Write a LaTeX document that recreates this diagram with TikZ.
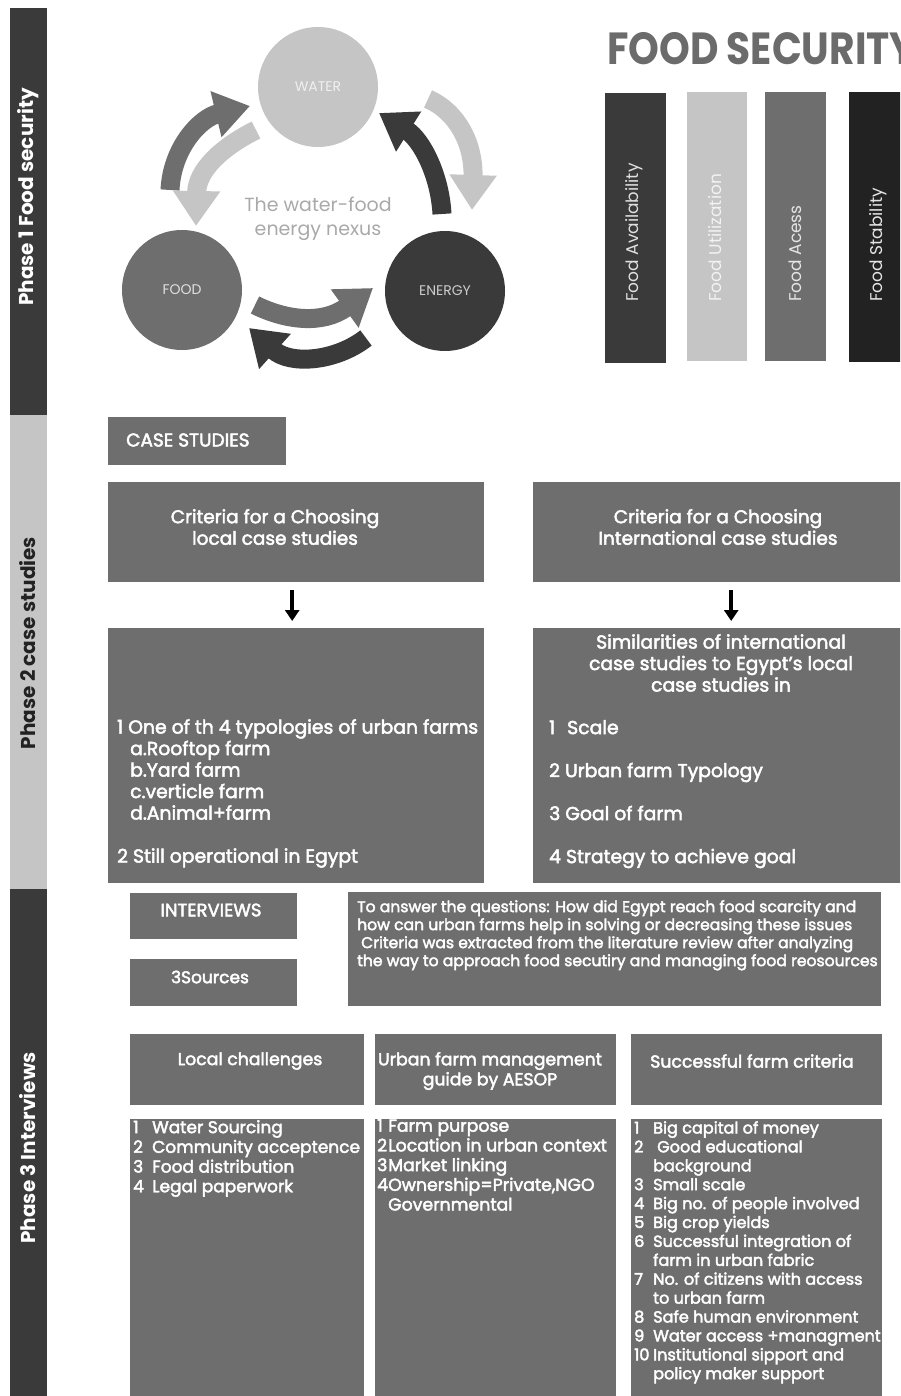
\documentclass[tikz,border=0pt]{standalone}
\usepackage{fontspec}
\setmainfont{Poppins}
\newfontfamily\bxf{Poppins}[FakeBold=2.5]
\newfontfamily\pop{Poppins}
\usetikzlibrary{arrows.meta}
\definecolor{cdark}{HTML}{3A3A3A}
\definecolor{cmed}{HTML}{6E6E6E}
\definecolor{clight}{HTML}{C5C5C5}
\definecolor{cblack}{HTML}{222222}
\definecolor{ctitle}{HTML}{6B6B6B}
\definecolor{cnexus}{HTML}{A9A9A9}
\newcommand{\myfs}[2]{\fontsize{#1}{#2}\selectfont}
\newcommand{\nbx}[2]{\makebox[#1][l]{#2}}
\begin{document}
\begin{tikzpicture}[x=1pt,y=-1pt,
  panel/.style={fill=cmed, inner sep=0pt, anchor=north west, draw=none},
  phasebar/.style={inner sep=0pt, anchor=north west, minimum width=37pt},
  phaselabel/.style={rotate=90, font={\pop\bfseries\myfs{20}{22}}},
  bigarrow/.style={line width=19pt, -{Triangle[length=35pt,width=45pt]}},
  downarrow/.style={line width=3.5pt, black, -{Triangle[length=11pt,width=14pt]}},
  btext/.style={text=white, inner sep=0pt},
  circ/.style={circle, minimum size=120pt, inner sep=0pt, font={\pop\myfs{14}{15}}},
  fsbar/.style={inner sep=0pt, anchor=north west},
  fslabel/.style={rotate=90, anchor=west, inner sep=0pt, font={\pop\myfs{17}{19}}}
]
\useasboundingbox (0,0) rectangle (900,1396);
\begin{scope}
\clip (0,0) rectangle (900,1396);

% phase bars
\node[phasebar, fill=cdark, minimum height=407pt] (p1) at (10,8) {};
\node[phasebar, fill=clight, minimum height=474pt] (p2) at (10,415) {};
\node[phasebar, fill=cdark, minimum height=510pt] (p3) at (10,889) {};
\node[phaselabel, text=white] (p1l) at (28,197) {Phase 1 Food security};
\node[phaselabel, text=cblack] (p2l) at (28,643) {Phase 2 case studies};
\node[phaselabel, text=white] (p3l) at (28,1148) {Phase 3 Interviews};

% nexus circles
\node[circ, fill=clight, text=white!94!black] (water) at (318,87) {WATER};
\node[circ, fill=cmed, text=white!88!black] (food) at (182,290) {FOOD};
\node[circ, fill=cdark, text=white!80!black] (energy) at (445,291) {ENERGY};
\node[align=center, text=cnexus, font={\pop\myfs{19}{24}}] (nexus) at (318,219) {The water-food\\energy nexus};

% nexus arrows
\coordinate (a1s) at (170,190); \coordinate (a1e) at (250,106);
\coordinate (a2s) at (256,130); \coordinate (a2e) at (196,226);
\coordinate (a3s) at (442,214); \coordinate (a3e) at (379,113);
\coordinate (a4s) at (428,99);  \coordinate (a4e) at (472,210);
\coordinate (a5s) at (255,305); \coordinate (a5e) at (373,288);
\coordinate (a6s) at (366,338); \coordinate (a6e) at (249,328);
\draw[bigarrow, cmed] (a1s) .. controls (172,148) and (200,118) .. (a1e);
\draw[bigarrow, clight] (a2s) .. controls (222,147) and (197,170) .. (a2e);
\draw[bigarrow, cdark] (a3s) .. controls (440,176) and (422,140) .. (a3e);
\draw[bigarrow, clight] (a4s) .. controls (458,112) and (474,145) .. (a4e);
\draw[bigarrow, cmed] (a5s) .. controls (285,320) and (322,325) .. (a5e);
\draw[bigarrow, cdark] (a6s) .. controls (335,362) and (290,365) .. (a6e);

% food security
\node[anchor=base west, inner sep=0pt, text=ctitle, font={\pop\bfseries\myfs{45}{47}}, xscale=0.87, transform shape] (fstitle) at (607,65) {FOOD SECURITY};
\node[fsbar, fill=cdark, minimum width=61pt, minimum height=270pt] (fs1) at (605,93) {};
\node[fsbar, fill=clight, minimum width=60pt, minimum height=269pt] (fs2) at (687,92) {};
\node[fsbar, fill=cmed, minimum width=61pt, minimum height=269pt] (fs3) at (765,92) {};
\node[fsbar, fill=cblack, minimum width=60pt, minimum height=270pt] (fs4) at (849,92) {};
\node[fslabel, text=white!88!black] (fs1l) at (634,302) {Food Availability};
\node[fslabel, text=white!95!black] (fs2l) at (715,302) {Food Utilization};
\node[fslabel, text=white!90!black] (fs3l) at (795,302) {Food Acess};
\node[fslabel, text=white!90!black] (fs4l) at (878,302) {Food Stability};

% case studies
\node[panel, minimum width=178pt, minimum height=48pt] (case) at (108,417) {};
\node[btext, anchor=west, font={\bxf\myfs{18.5}{21}}] (caset) at (126,440) {CASE STUDIES};
\node[panel, minimum width=376pt, minimum height=100pt] (crit1) at (108,482) {};
\node[panel, minimum width=372pt, minimum height=100pt] (crit2) at (533,482) {};
\node[btext, align=center, font={\bxf\myfs{18.5}{21.5}}] (crit1t) at (275,527) {Criteria for a Choosing\\local case studies};
\node[btext, align=center, font={\bxf\myfs{18.5}{21.5}}] (crit2t) at (718,527) {Criteria for a Choosing\\International case studies};
\node[panel, minimum width=376pt, minimum height=255pt] (low1) at (108,628) {};
\node[panel, minimum width=372pt, minimum height=255pt] (low2) at (533,628) {};
\draw[downarrow] ([xshift=-4pt,yshift=-8pt]crit1.south) -- ([xshift=-4pt,yshift=7pt]low1.north);
\draw[downarrow] ([xshift=12pt,yshift=-8pt]crit2.south) -- ([xshift=12pt,yshift=7pt]low2.north);

\node[btext, anchor=north west, align=left, font={\bxf\myfs{18.8}{21.5}}] (low1t) at (117,719)
 {1 One of th 4 typologies of urban farms\\
  \hspace*{13pt}a.Rooftop farm\\
  \hspace*{13pt}b.Yard farm\\
  \hspace*{13pt}c.verticle farm\\
  \hspace*{13pt}d.Animal+farm\\[21.5pt]
  2 Still operational in Egypt};
\node[btext, anchor=north, align=center, font={\bxf\myfs{18.8}{21.5}}] (low2h) at (721,634)
 {Similarities of international\\case studies to Egypt’s local\\case studies in};
\node[btext, anchor=north west, align=left, font={\bxf\myfs{18.8}{21.5}}] (low2t) at (549,720)
 {\nbx{18pt}{1}Scale\\[21.5pt]
  2 Urban farm Typology\\[21.5pt]
  3 Goal of farm\\[21.5pt]
  4 Strategy to achieve goal};

% interviews
\node[panel, minimum width=167pt, minimum height=46pt] (intv) at (130,893) {};
\node[btext, font={\bxf\myfs{18}{20}}] (intvt) at (211,910) {INTERVIEWS};
\node[panel, minimum width=167pt, minimum height=47pt] (src) at (130,959) {};
\node[btext, font={\bxf\myfs{17}{19}}] (srct) at (210,977) {3Sources};
\node[panel, minimum width=533pt, minimum height=114pt] (para) at (348,892) {};
\node[btext, anchor=north west, align=left, font={\bxf\myfs{15.6}{18}}] (parat) at (357,900)
 {To answer the questions: How did Egypt reach food scarcity and\\
  how can urban farms help in solving or decreasing these issues\\
  \hspace*{4pt}Criteria was extracted from the literature review after analyzing\\
  the way to approach food secutiry and managing food reosources};

% bottom columns
\node[panel, minimum width=234pt, minimum height=71pt] (h1) at (130,1034) {};
\node[panel, minimum width=241pt, minimum height=71pt] (h2) at (375,1034) {};
\node[panel, minimum width=251pt, minimum height=71pt] (h3) at (631,1034) {};
\node[btext, font={\bxf\myfs{17.3}{20}}] (h1t) at (250,1061) {Local challenges};
\node[btext, align=center, font={\bxf\myfs{17.3}{20}}] (h2t) at (490,1071) {Urban farm management\\guide by AESOP};
\node[btext, font={\bxf\myfs{17.3}{20}}] (h3t) at (752,1061) {Successful farm criteria};
\node[panel, minimum width=234pt, minimum height=280pt] (c1) at (130,1119) {};
\node[panel, minimum width=241pt, minimum height=280pt] (c2) at (375,1119) {};
\node[panel, minimum width=251pt, minimum height=280pt] (c3) at (631,1119) {};
\node[btext, anchor=north west, align=left, font={\bxf\myfs{17}{19.7}}] (c1t) at (133,1120)
 {\nbx{19pt}{1}Water Sourcing\\
  \nbx{19pt}{2}Community acceptence\\
  \nbx{19pt}{3}Food distribution\\
  \nbx{19pt}{4}Legal paperwork};
\node[btext, anchor=north west, align=left, font={\bxf\myfs{17.3}{19.7}}] (c2t) at (377,1119)
 {\nbx{11pt}{1}Farm purpose\\
  \nbx{11pt}{2}Location in urban context\\
  \nbx{11pt}{3}Market linking\\
  \nbx{11pt}{4}Ownership=Private,NGO\\
  \nbx{11pt}{}Governmental};
\node[btext, anchor=north west, align=left, font={\bxf\myfs{16.1}{18.9}}] (c3t) at (634,1121)
 {\nbx{19pt}{1}Big capital of money\\
  \nbx{19pt}{2}\hspace*{4pt}Good educational\\
  \nbx{19pt}{}background\\
  \nbx{19pt}{3}Small scale\\
  \nbx{19pt}{4}Big no. of people involved\\
  \nbx{19pt}{5}Big crop yields\\
  \nbx{19pt}{6}Successful integration of\\
  \nbx{19pt}{}farm in urban fabric\\
  \nbx{19pt}{7}No. of citizens with access\\
  \nbx{19pt}{}to urban farm\\
  \nbx{19pt}{8}Safe human environment\\
  \nbx{19pt}{9}Water access +managment\\
  \nbx{19pt}{10}Institutional sipport and\\
  \nbx{19pt}{}policy maker support};
\end{scope}
\end{tikzpicture}
\end{document}
